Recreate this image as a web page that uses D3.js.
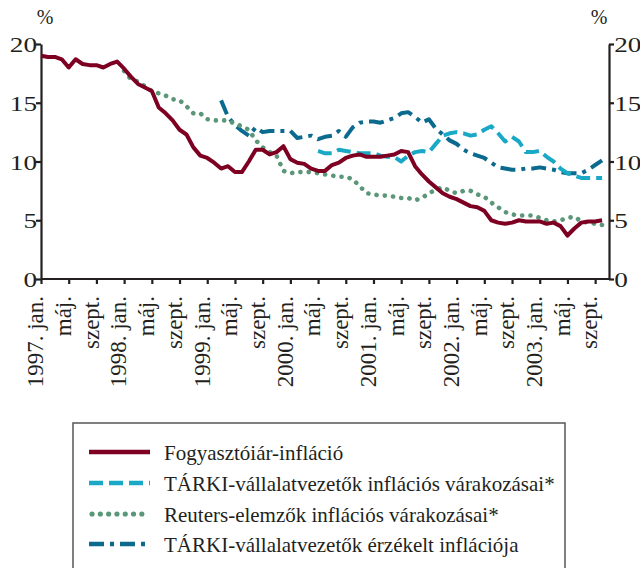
<!DOCTYPE html>
<html>
<head>
<meta charset="utf-8">
<script src="https://cdn.jsdelivr.net/npm/d3@7"></script>
<style>
  body { margin: 0; background: #fff; }
  svg { display: block; }
  text { font-family: 'Liberation Serif', 'Times New Roman', serif; fill: #231f20; }
</style>
</head>
<body>
<div id="main-container"></div>
<script>
const WIDTH = 640
const HEIGHT = 568
const LEFT = 41
const RIGHT = 609
const TOP = 44
const BOTTOM = 279
const LAST_MONTH = 82 // 1997 jan = 0
const FONT = "'Liberation Serif', 'Times New Roman', serif"

// x tick labels, one every 4 months from 1997 jan
const TICK_LABELS = [
  '1997. jan.', 'máj.', 'szept.',
  '1998. jan.', 'máj.', 'szept.',
  '1999. jan.', 'máj.', 'szept.',
  '2000. jan.', 'máj.', 'szept.',
  '2001. jan.', 'máj.', 'szept.',
  '2002. jan.', 'máj.', 'szept.',
  '2003. jan.', 'máj.', 'szept.'
]
const Y_TICKS = [0, 5, 10, 15, 20]

// Fogyasztóiár-infláció, from 1997 jan
const CPI_START = 0
const CPI = [
  19.0, 18.9, 18.9, 18.7, 18.0, 18.7, 18.3, 18.2, 18.2, 18.0, 18.3, 18.5,
  17.9, 17.2, 16.6, 16.3, 16.0, 14.6, 14.1, 13.5, 12.7, 12.3, 11.2, 10.5,
  10.3, 9.9, 9.4, 9.6, 9.1, 9.1, 10.0, 11.0, 11.0, 10.6, 10.8, 11.3,
  10.2, 9.9, 9.8, 9.4, 9.2, 9.2, 9.7, 9.9, 10.3, 10.5, 10.6, 10.4,
  10.4, 10.4, 10.5, 10.6, 10.9, 10.8, 9.6, 8.9, 8.3, 7.8, 7.3, 7.0,
  6.8, 6.5, 6.2, 6.1, 5.8, 5.0, 4.8, 4.7, 4.8, 5.0, 4.9, 4.9,
  4.9, 4.7, 4.8, 4.5, 3.7, 4.3, 4.8, 4.9, 4.9, 5.0
]

// TÁRKI-vállalatvezetők inflációs várakozásai, from 2000 máj
const TARKI_EXP_START = 40
const TARKI_EXP = [
  10.9, 10.7, 10.7, 11.0, 10.9, 10.8, 10.7, 10.7,
  10.7, 10.5, 10.4, 10.4, 10.0, 10.5, 10.8, 10.9, 10.8, 11.5, 12.2, 12.4,
  12.5, 12.4, 12.2, 12.3, 12.7, 13.0, 12.4, 11.7, 12.1, 11.7, 10.8, 10.8,
  10.9, 10.4, 10.0, 9.4, 9.0, 8.8, 8.6, 8.6, 8.6, 8.6
]

// Reuters-elemzők inflációs várakozásai, from 1998 jan
const REUTERS_START = 12
const REUTERS = [
  17.7, 17.0, 16.8, 16.4, 16.0, 15.8, 15.6, 15.3, 15.2, 14.7, 14.1, 14.1,
  13.6, 13.5, 13.5, 13.5, 13.2, 13.0, 12.7, 11.8, 11.2, 10.8, 10.5, 9.2,
  9.0, 9.1, 9.1, 9.1, 9.0, 8.9, 8.8, 8.7, 8.7, 8.5, 7.9, 7.3,
  7.2, 7.1, 7.1, 7.0, 6.9, 6.9, 6.7, 6.9, 7.3, 7.6, 7.8, 7.5,
  7.3, 7.5, 7.5, 7.2, 7.0, 6.5, 6.1, 5.7, 5.5, 5.4, 5.4, 5.4,
  5.2, 5.0, 4.9, 5.0, 5.2, 5.3, 4.9, 4.8, 4.7, 4.6
]

// TÁRKI-vállalatvezetők érzékelt inflációja, from 1999 márc
const TARKI_PERC_START = 26
const TARKI_PERC = [
  15.2, 13.8, 13.1, 12.6, 12.2, 12.9, 12.5, 12.6, 12.6, 12.6,
  12.6, 12.0, 12.1, 12.2, 11.9, 12.1, 12.2, 12.6, 12.1, 12.9, 13.3, 13.4,
  13.4, 13.3, 13.5, 13.7, 14.1, 14.2, 13.8, 13.3, 13.6, 12.8, 12.3, 11.8,
  11.5, 11.0, 10.7, 10.5, 10.3, 9.9, 9.5, 9.4, 9.3, 9.3, 9.4, 9.4,
  9.5, 9.4, 9.3, 9.1, 9.0, 9.0, 9.0, 9.3, 9.7, 10.1
]

const SERIES = [
  { name: 'TÁRKI-vállalatvezetők érzékelt inflációja', start: TARKI_PERC_START, values: TARKI_PERC,
    color: '#0b6a8e', width: 4, dash: '15 6 4 6', cap: 'butt' },
  { name: 'Reuters-elemzők inflációs várakozásai*', start: REUTERS_START, values: REUTERS,
    color: '#5a9678', width: 4.6, dash: '0.1 8.2', cap: 'round' },
  { name: 'TÁRKI-vállalatvezetők inflációs várakozásai*', start: TARKI_EXP_START, values: TARKI_EXP,
    color: '#19a9c6', width: 4, dash: '14 6', cap: 'butt' },
  { name: 'Fogyasztóiár-infláció', start: CPI_START, values: CPI,
    color: '#7d0022', width: 4, dash: null, cap: 'butt' }
]
const LEGEND_ORDER = [3, 2, 1, 0]

const X_SCALE = d3.scaleLinear().domain([0, LAST_MONTH]).range([LEFT, RIGHT])
const Y_SCALE = d3.scaleLinear().domain([0, 20]).range([BOTTOM, TOP])

const SVG = d3.select('#main-container')
  .append('svg')
  .attr('width', WIDTH)
  .attr('height', HEIGHT)

// Axes
const AXIS_COLOR = '#231f20'
const styleAxis = g => {
  g.attr('font-family', FONT)
  g.select('.domain').attr('stroke', AXIS_COLOR).attr('stroke-width', 2.2)
  g.selectAll('.tick line').attr('stroke', AXIS_COLOR).attr('stroke-width', 2.2)
  g.selectAll('text').attr('fill', AXIS_COLOR).style('font-family', FONT)
}

// y labels in the original are drawn wide, so stretch them a bit
SVG.append('g')
  .attr('transform', `translate(${LEFT}, 0)`)
  .call(d3.axisLeft(Y_SCALE).tickValues(Y_TICKS).tickSize(5).tickSizeOuter(0).tickPadding(0))
  .call(styleAxis)
  .selectAll('text')
  .attr('x', -3)
  .attr('dy', '0.36em')
  .attr('transform', 'scale(1.3,1)')
  .style('font-size', '21px')

SVG.append('g')
  .attr('transform', `translate(${RIGHT}, 0)`)
  .call(d3.axisRight(Y_SCALE).tickValues(Y_TICKS).tickSize(5).tickSizeOuter(0).tickPadding(0))
  .call(styleAxis)
  .selectAll('text')
  .attr('x', 4)
  .attr('dy', '0.36em')
  .attr('transform', 'scale(1.3,1)')
  .style('font-size', '21px')

const X_TICKS = TICK_LABELS.map((_, i) => i * 4)
const X_AXIS = SVG.append('g')
  .attr('transform', `translate(0, ${BOTTOM})`)
  .call(d3.axisBottom(X_SCALE).tickValues(X_TICKS).tickSize(5).tickSizeOuter(0)
    .tickFormat((_, i) => TICK_LABELS[i]))
  .call(styleAxis)
X_AXIS.select('.domain').attr('d', `M${LEFT},0H${RIGHT}`)
X_AXIS.selectAll('.tick text')
  .attr('transform', 'rotate(-90)')
  .attr('text-anchor', 'end')
  .attr('x', -17)
  .attr('y', 0)
  .attr('dy', '0.08em')
  .style('font-size', '23px')

// % unit labels
SVG.append('text').attr('x', 45).attr('y', 24).attr('text-anchor', 'middle')
  .style('font-size', '20px').text('%')
SVG.append('text').attr('x', 599).attr('y', 24).attr('text-anchor', 'middle')
  .style('font-size', '20px').text('%')

// Lines
const LINE = d3.line()
  .x(d => X_SCALE(d.m))
  .y(d => Y_SCALE(d.v))

SERIES.forEach(s => {
  const pts = s.values.map((v, i) => ({ m: s.start + i, v }))
  SVG.append('path')
    .datum(pts)
    .attr('d', LINE)
    .attr('fill', 'none')
    .attr('stroke', s.color)
    .attr('stroke-width', s.width)
    .attr('stroke-dasharray', s.dash)
    .attr('stroke-linecap', s.cap)
    .attr('stroke-linejoin', 'round')
})

// Legend
const LEGEND = SVG.append('g')
LEGEND.append('rect')
  .attr('x', 73).attr('y', 423)
  .attr('width', 492).attr('height', 160)
  .attr('fill', 'none')
  .attr('stroke', '#555')
  .attr('stroke-width', 1.5)

const ROW_Y = [453, 484, 515, 545]
LEGEND_ORDER.forEach((idx, i) => {
  const s = SERIES[idx]
  LEGEND.append('line')
    .attr('x1', s.cap === 'round' ? 92 : 89).attr('x2', 150)
    .attr('y1', ROW_Y[i] - 1).attr('y2', ROW_Y[i] - 1)
    .attr('stroke', s.color)
    .attr('stroke-width', s.width + 0.5)
    .attr('stroke-dasharray', s.dash)
    .attr('stroke-linecap', s.cap)
  LEGEND.append('text')
    .attr('x', 164)
    .attr('y', ROW_Y[i])
    .attr('dy', '0.34em')
    .style('font-family', FONT)
    .style('font-size', '21px')
    .text(s.name)
})
</script>
</body>
</html>
